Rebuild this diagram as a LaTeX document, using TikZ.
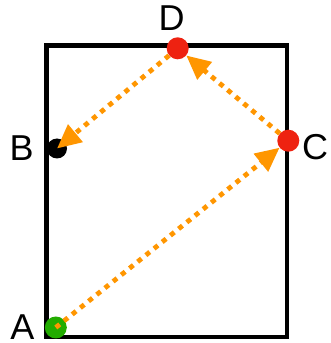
\documentclass[tikz,border=0pt]{standalone}
\usepackage{fontspec}
\setmainfont{Liberation Sans}
\usetikzlibrary{arrows.meta}
\definecolor{dotorange}{RGB}{255,150,0}
\definecolor{ptred}{RGB}{238,34,17}
\definecolor{ptgreen}{RGB}{34,172,0}
\begin{document}
\begin{tikzpicture}[x=1pt,y=1pt,
  pt/.style={circle,inner sep=0pt,minimum size=22pt},
  lbl/.style={inner sep=0pt,font=\fontsize{36}{36}\selectfont},
  conn/.style={draw=dotorange,line width=4.8pt,dash pattern=on 5pt off 5.5pt,
    -{Triangle[length=24pt,width=22pt,fill=dotorange]}}]
\useasboundingbox (0,0) rectangle (331,343);
\fill[white] (0,0) rectangle (331,343);
\node[pt,fill=black,minimum size=20pt] (B) at (57,194.5) {};
\draw[line width=4.5pt] (46.3,6) rectangle (287,297.7);
\node[pt,fill=ptgreen] (A) at (55.8,15.5) {};
\node[pt,fill=ptred] (C) at (288.3,202.3) {};
\node[pt,fill=ptred] (D) at (177.7,294.7) {};
\node[lbl] (lA) at (22.5,15.5) {A};
\node[lbl] (lB) at (21.7,194.7) {B};
\node[lbl] (lC) at (315,195.5) {C};
\node[lbl] (lD) at (171.7,324.7) {D};
\draw[conn] (A.center) -- (C);
\draw[conn] (C) -- (D);
\draw[conn] (D) -- (B.center);
\end{tikzpicture}
\end{document}
